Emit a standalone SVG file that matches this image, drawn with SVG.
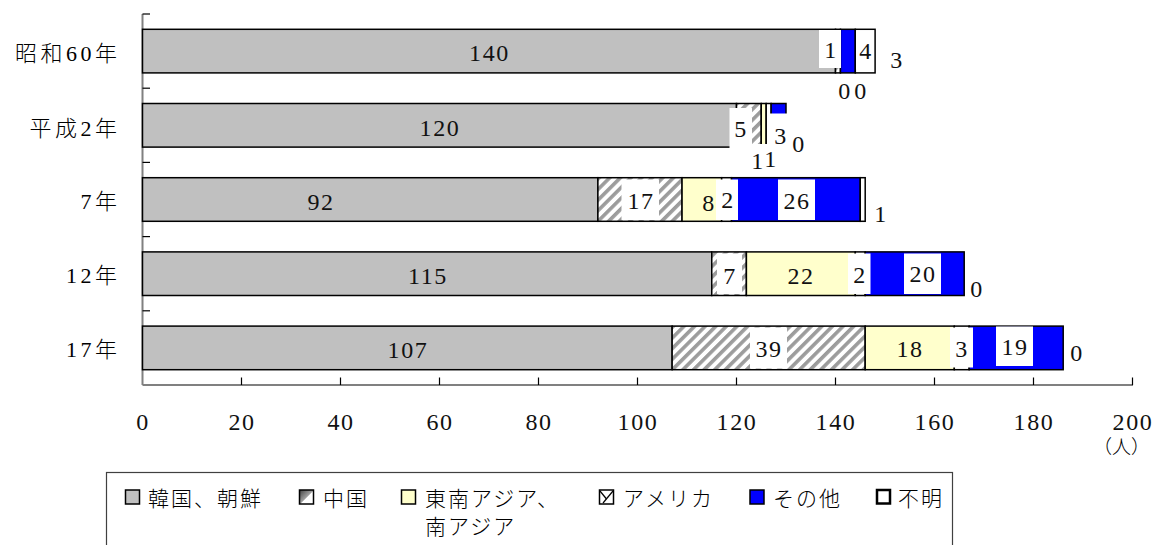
<svg xmlns="http://www.w3.org/2000/svg" width="1156" height="545" viewBox="0 0 1156 545">
<defs>
<pattern id="hatch" patternUnits="userSpaceOnUse" width="7.5" height="7.5" patternTransform="rotate(45)">
<rect x="0" y="0" width="7.5" height="7.5" fill="#ffffff"/>
<rect x="0" y="0" width="3.6" height="7.5" fill="#9c9c9c"/>
</pattern>
<linearGradient id="cnSw" x1="0" y1="0" x2="1" y2="1">
<stop offset="0" stop-color="#404040"/>
<stop offset="0.5" stop-color="#a0a0a0"/>
<stop offset="0.55" stop-color="#ffffff"/>
<stop offset="1" stop-color="#ffffff"/>
</linearGradient>
<style>
.seg{stroke:#000;stroke-width:1.5}
.kr{fill:#c0c0c0}
.cn{fill:url(#hatch)}
.sea{fill:#ffffcc}
.us{fill:#ffffff}
.oth{fill:#0000ff}
.unk{fill:#ffffff}
.lb{fill:#ffffff}
.num{font-family:"Liberation Serif",serif;font-size:24px;letter-spacing:1.6px;text-anchor:middle;fill:#111}
.cat{font-family:"Liberation Serif","Noto Sans CJK JP",sans-serif;font-size:22px;font-weight:300;letter-spacing:3.5px;text-anchor:end;fill:#000}
.leg{font-family:"Noto Sans CJK JP",sans-serif;font-size:21px;font-weight:300;letter-spacing:2px;fill:#000}
.ax{stroke:#808080;stroke-width:2;fill:none}
.tk{stroke:#000;stroke-width:1.2}
.sw{stroke:#000;stroke-width:1.5}
</style>
</defs>
<rect width="1156" height="545" fill="#ffffff"/>

<g id="axes">
<line class="ax" x1="142.5" y1="14" x2="142.5" y2="385"/>
<line class="ax" x1="142.5" y1="385" x2="1133" y2="385"/>
<g class="tk">
<line x1="142.5" y1="14" x2="150" y2="14"/>
<line x1="142.5" y1="88.2" x2="150" y2="88.2"/>
<line x1="142.5" y1="162.4" x2="150" y2="162.4"/>
<line x1="142.5" y1="236.6" x2="150" y2="236.6"/>
<line x1="142.5" y1="310.8" x2="150" y2="310.8"/>
<line x1="241.5" y1="377.5" x2="241.5" y2="385"/>
<line x1="340.5" y1="377.5" x2="340.5" y2="385"/>
<line x1="439.5" y1="377.5" x2="439.5" y2="385"/>
<line x1="538.5" y1="377.5" x2="538.5" y2="385"/>
<line x1="637.5" y1="377.5" x2="637.5" y2="385"/>
<line x1="736.5" y1="377.5" x2="736.5" y2="385"/>
<line x1="835.5" y1="377.5" x2="835.5" y2="385"/>
<line x1="934.5" y1="377.5" x2="934.5" y2="385"/>
<line x1="1033.5" y1="377.5" x2="1033.5" y2="385"/>
<line x1="1132.5" y1="377.5" x2="1132.5" y2="385"/>
</g>
<g class="num">
<text x="143" y="429.5">0</text>
<text x="242" y="429.5">20</text>
<text x="341" y="429.5">40</text>
<text x="440" y="429.5">60</text>
<text x="539" y="429.5">80</text>
<text x="638" y="429.5">100</text>
<text x="737" y="429.5">120</text>
<text x="836" y="429.5">140</text>
<text x="935" y="429.5">160</text>
<text x="1034" y="429.5">180</text>
<text x="1133" y="429.5">200</text>
</g>
<text x="1093" y="454" style="font-family:'Noto Sans CJK JP',sans-serif;font-size:19px;font-weight:300;fill:#000">（人）</text>
<g class="cat">
<text x="120.5" y="60.5">昭和60年</text>
<text x="120.5" y="135.5">平成2年</text>
<text x="120.5" y="208.5">7年</text>
<text x="120.5" y="282.5">12年</text>
<text x="120.5" y="356.5">17年</text>
</g>
</g>

<g id="bar-s60">
<rect class="seg kr" x="142.5" y="29.3" width="693" height="43.6"/>
<rect class="seg cn" x="835.5" y="29.3" width="4.95" height="43.6"/>
<rect class="seg oth" x="840.45" y="29.3" width="14.85" height="43.6"/>
<rect class="seg unk" x="855.3" y="29.3" width="19.8" height="43.6"/>
<text class="num" x="489.5" y="61">140</text>
<rect class="lb" x="819" y="30" width="22" height="38"/>
<text class="num" x="831" y="58">1</text>
<rect class="lb" x="856" y="30.5" width="18" height="39"/>
<text class="num" x="866" y="59">4</text>
<text class="num" x="897" y="68">3</text>
<text class="num" x="845" y="99">0</text>
<text class="num" x="861" y="99">0</text>
</g>

<g id="bar-h2">
<rect class="seg kr" x="142.5" y="103.5" width="594" height="43.6"/>
<rect class="seg cn" x="736.5" y="103.5" width="24.75" height="43.6"/>
<rect class="seg sea" x="761.25" y="103.5" width="4.95" height="43.6"/>
<rect class="seg us" x="766.2" y="103.5" width="4.95" height="43.6"/>
<rect class="seg oth" x="771.15" y="103.5" width="14.85" height="43.6"/>
<text class="num" x="440" y="136">120</text>
<rect class="lb" x="729.5" y="108" width="22.5" height="40"/>
<text class="num" x="741" y="137">5</text>
<rect class="lb" x="769" y="113.5" width="22" height="40"/>
<text class="num" x="781" y="143.5">3</text>
<text class="num" x="799" y="151.5">0</text>
<rect class="lb" x="749" y="144" width="33" height="35.5"/>
<text class="num" x="758" y="169">1</text>
<text class="num" x="771" y="167">1</text>
</g>

<g id="bar-h7">
<rect class="seg kr" x="142.5" y="177.7" width="455.4" height="43.6"/>
<rect class="seg cn" x="597.9" y="177.7" width="84.15" height="43.6"/>
<rect class="seg sea" x="682.05" y="177.7" width="39.6" height="43.6"/>
<rect class="seg us" x="721.65" y="177.7" width="9.9" height="43.6"/>
<rect class="seg oth" x="731.55" y="177.7" width="128.7" height="43.6"/>
<rect class="seg unk" x="860.25" y="177.7" width="4.95" height="43.6"/>
<text class="num" x="321" y="209.5">92</text>
<rect class="lb" x="621.5" y="179.5" width="37.5" height="40.5"/>
<text class="num" x="641" y="208.5">17</text>
<text class="num" x="709" y="210.5">8</text>
<rect class="lb" x="716" y="179.5" width="22" height="40.5"/>
<text class="num" x="728" y="207.5">2</text>
<rect class="lb" x="778" y="179.5" width="37" height="40.5"/>
<text class="num" x="797" y="208.5">26</text>
<text class="num" x="881" y="221.5">1</text>
</g>

<g id="bar-h12">
<rect class="seg kr" x="142.5" y="251.9" width="569.25" height="43.6"/>
<rect class="seg cn" x="711.75" y="251.9" width="34.65" height="43.6"/>
<rect class="seg sea" x="746.4" y="251.9" width="108.9" height="43.6"/>
<rect class="seg us" x="855.3" y="251.9" width="9.9" height="43.6"/>
<rect class="seg oth" x="865.2" y="251.9" width="99" height="43.6"/>
<text class="num" x="428" y="283.5">115</text>
<rect class="lb" x="717" y="253.5" width="25" height="40.5"/>
<text class="num" x="730" y="283.5">7</text>
<text class="num" x="801" y="283.5">22</text>
<rect class="lb" x="848" y="253.5" width="22.5" height="40.5"/>
<text class="num" x="860" y="282.5">2</text>
<rect class="lb" x="904" y="253.5" width="37" height="40.5"/>
<text class="num" x="923" y="281.5">20</text>
<text class="num" x="977" y="296.5">0</text>
</g>

<g id="bar-h17">
<rect class="seg kr" x="142.5" y="326.1" width="529.65" height="43.6"/>
<rect class="seg cn" x="672.15" y="326.1" width="193.05" height="43.6"/>
<rect class="seg sea" x="865.2" y="326.1" width="89.1" height="43.6"/>
<rect class="seg us" x="954.3" y="326.1" width="14.85" height="43.6"/>
<rect class="seg oth" x="969.15" y="326.1" width="94.05" height="43.6"/>
<text class="num" x="408" y="357.5">107</text>
<rect class="lb" x="750" y="327.5" width="37" height="41"/>
<text class="num" x="769" y="356.5">39</text>
<text class="num" x="910" y="356.5">18</text>
<rect class="lb" x="950" y="327.5" width="23" height="40"/>
<text class="num" x="962" y="356.5">3</text>
<rect class="lb" x="996" y="326.5" width="37" height="39.5"/>
<text class="num" x="1015" y="354.5">19</text>
<text class="num" x="1077" y="360.5">0</text>
</g>

<g id="legend">
<rect x="106.5" y="472.5" width="846" height="90" fill="#ffffff" stroke="#404040" stroke-width="1.2"/>
<rect class="sw" x="125.5" y="490" width="14" height="14" fill="#c0c0c0"/>
<text class="leg" x="148" y="506">韓国、朝鮮</text>
<rect class="sw" x="299.5" y="490" width="14" height="14" fill="url(#cnSw)"/>
<text class="leg" x="323" y="506">中国</text>
<rect class="sw" x="401.5" y="490" width="14" height="14" fill="#ffffcc"/>
<text class="leg" x="425" y="506">東南アジア、</text>
<text class="leg" x="425" y="534">南アジア</text>
<rect class="sw" x="599.5" y="490" width="14" height="14" fill="#ffffff"/>
<line x1="600" y1="491" x2="606.5" y2="499" stroke="#000" stroke-width="1.2"/>
<line x1="613" y1="491" x2="603" y2="503" stroke="#000" stroke-width="1.2"/>
<text class="leg" x="623" y="506">アメリカ</text>
<rect class="sw" x="750" y="490" width="14" height="14" fill="#0000ff"/>
<text class="leg" x="773" y="506">その他</text>
<rect x="877" y="490" width="13" height="13.5" fill="#ffffff" stroke="#000" stroke-width="2.5"/>
<text class="leg" x="898" y="506">不明</text>
</g>
</svg>
